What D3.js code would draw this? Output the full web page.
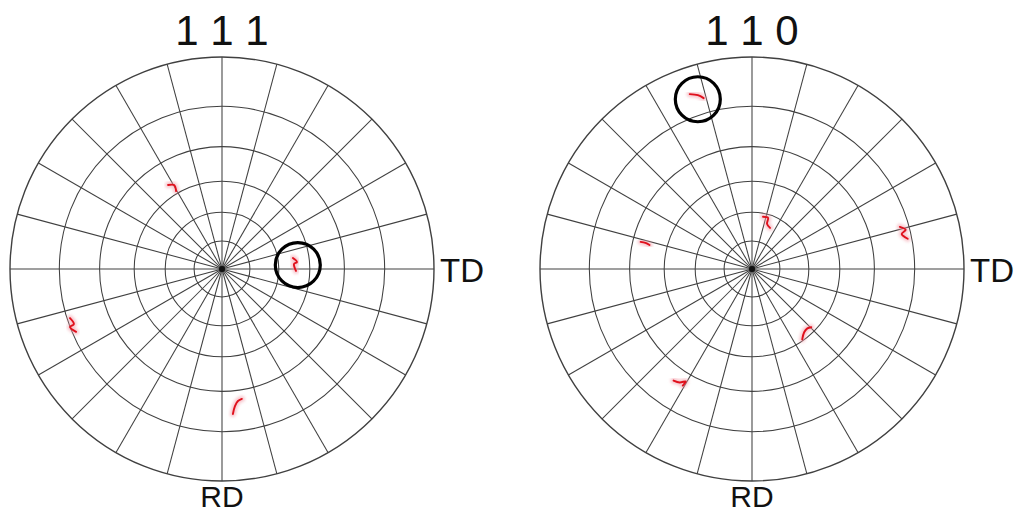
<!DOCTYPE html>
<html>
<head>
<meta charset="utf-8">
<script src="https://cdn.jsdelivr.net/npm/d3@7"></script>
<style>
  html, body { margin: 0; padding: 0; background: #fff; }
  svg { display: block; }
  text { font-family: "Liberation Sans", Arial, sans-serif; fill: #111; }
</style>
</head>
<body>
<svg id="chart" width="1016" height="513"></svg>
<script>
// Pole figure titles (Miller indices) and sample direction labels
const titles = ["1 1 1", "1 1 0"];
const axisLabelRight = "TD";
const axisLabelBottom = "RD";

// Wulff-net grid: tilt circles and azimuth spokes (degrees)
const tiltRings = [15, 30, 45, 60, 75, 90];
const azimuthSpokes = d3.range(0, 360, 15);

// Measured pole traces: each trace is a list of [tilt, azimuth] in degrees
// (tilt from the sheet normal, azimuth counter-clockwise from TD)
const poles111 = [
  [[50.4, 122.7], [49.0, 119.7], [46.2, 120.5]],
  [[37.4, 8.8], [39.1, 5.3], [37.6, 4.0], [38.5, 358.5]],
  [[74.0, 197.9], [73.4, 200.4], [75.0, 200.9], [73.7, 203.3]],
  [[68.9, 274.3], [66.0, 275.4], [64.2, 276.9], [63.6, 278.7]]
];
const poles110 = [
  [[82.4, 109.6], [81.3, 107.3], [79.9, 105.8]],
  [[28.3, 78.1], [28.4, 72.6], [25.3, 71.6], [23.9, 66.3]],
  [[56.8, 166.3], [54.7, 166.2], [52.8, 166.8]],
  [[71.9, 15.9], [73.6, 14.3], [71.9, 13.2], [73.6, 11.0]],
  [[44.4, 305.5], [42.3, 309.5], [41.9, 313.0], [42.8, 315.5]],
  [[65.5, 234.9], [64.8, 237.5], [63.2, 239.5], [65.2, 239.3]]
];

// Highlighted pole in each figure: [tilt, azimuth]
const highlight111 = [39.4, 3.0];
const highlight110 = [80.1, 107.7];

const figures = [
  { title: titles[0], cx: 222, cy: 269, poles: poles111, mark: highlight111 },
  { title: titles[1], cx: 752, cy: 269, poles: poles110, mark: highlight110 }
];

const R = 212;
const svg = d3.select("#chart");
svg.append("rect").attr("width", 1016).attr("height", 513).attr("fill", "#fff");

const defs = svg.append("defs");
defs.append("filter").attr("id", "halo")
  .attr("x", "-50%").attr("y", "-50%").attr("width", "200%").attr("height", "200%")
  .append("feGaussianBlur").attr("stdDeviation", 1.6);

// Stereographic radius: r = R * tan(tilt / 2)
const rScale = d3.scaleLinear().domain([0, 1]).range([0, R]);
const radiusOf = tilt => rScale(Math.tan(tilt * Math.PI / 360));
// lineRadial angle: clockwise from 12 o'clock; azimuth is CCW from 3 o'clock
const angleOf = az => (90 - az) * Math.PI / 180;

const trace = d3.lineRadial()
  .angle(d => angleOf(d[1]))
  .radius(d => radiusOf(d[0]))
  .curve(d3.curveCatmullRom);

figures.forEach(fig => {
  const g = svg.append("g").attr("transform", `translate(${fig.cx},${fig.cy})`);

  // azimuth spokes
  g.append("g").selectAll("line").data(azimuthSpokes).join("line")
    .attr("x1", 0).attr("y1", 0)
    .attr("x2", d => R * Math.cos(angleOf(d) - Math.PI / 2))
    .attr("y2", d => R * Math.sin(angleOf(d) - Math.PI / 2))
    .attr("stroke", "#404040").attr("stroke-width", 1.05);

  // tilt circles
  g.append("g").selectAll("circle").data(tiltRings).join("circle")
    .attr("r", d => radiusOf(d))
    .attr("fill", "none")
    .attr("stroke", "#404040").attr("stroke-width", d => d === 90 ? 1.4 : 1.05);

  // centre spot
  g.append("circle").attr("r", 3).attr("fill", "#111");

  // pole traces: soft pink halo under a red core
  const pg = g.append("g");
  pg.selectAll("path.halo").data(fig.poles).join("path")
    .attr("class", "halo")
    .attr("d", trace)
    .attr("fill", "none").attr("stroke", "#f29aa6").attr("stroke-width", 6)
    .attr("stroke-linecap", "round").attr("stroke-linejoin", "round")
    .attr("opacity", 0.55).attr("filter", "url(#halo)");
  pg.selectAll("path.core").data(fig.poles).join("path")
    .attr("class", "core")
    .attr("d", trace)
    .attr("fill", "none").attr("stroke", "#e0101c").attr("stroke-width", 1.9)
    .attr("stroke-linecap", "round").attr("stroke-linejoin", "round");

  // highlighted pole ring
  const a = angleOf(fig.mark[1]) - Math.PI / 2;
  const rr = radiusOf(fig.mark[0]);
  g.append("circle")
    .attr("cx", rr * Math.cos(a)).attr("cy", rr * Math.sin(a))
    .attr("r", 22.5).attr("fill", "none")
    .attr("stroke", "#000").attr("stroke-width", 3.2);

  // labels
  svg.append("text").attr("x", fig.cx).attr("y", 45)
    .attr("text-anchor", "middle").attr("font-size", 42).text(fig.title);
  svg.append("text").attr("x", fig.cx + R + 6).attr("y", 282)
    .attr("font-size", 33).text(axisLabelRight);
  svg.append("text").attr("x", fig.cx).attr("y", 507)
    .attr("text-anchor", "middle").attr("font-size", 30).text(axisLabelBottom);
});
</script>
</body>
</html>
